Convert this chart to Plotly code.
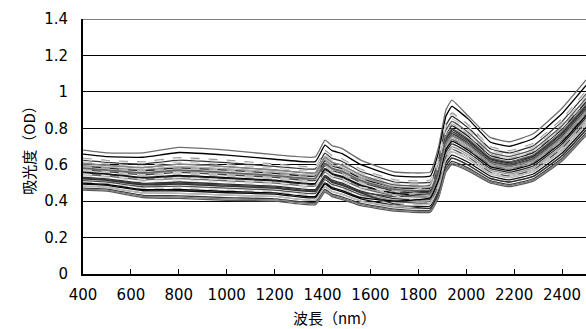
import plotly.graph_objects as go

wavelengths = [400, 500, 650, 800, 1000, 1200, 1370, 1410, 1440, 1480, 1560, 1700,
               1850, 1885, 1915, 1940, 2010, 2100, 2180, 2280, 2400, 2500]

spectra = [
    [0.680, 0.665, 0.665, 0.695, 0.680, 0.655, 0.643, 0.735, 0.705, 0.690, 0.625, 0.560, 0.560, 0.700, 0.900, 0.955, 0.865, 0.750, 0.726, 0.770, 0.910, 1.065],
    [0.658, 0.644, 0.641, 0.667, 0.653, 0.630, 0.617, 0.707, 0.677, 0.662, 0.600, 0.539, 0.538, 0.672, 0.866, 0.920, 0.849, 0.725, 0.701, 0.744, 0.881, 1.035],
    [0.636, 0.623, 0.616, 0.639, 0.625, 0.604, 0.590, 0.678, 0.649, 0.634, 0.575, 0.517, 0.516, 0.644, 0.832, 0.884, 0.817, 0.700, 0.677, 0.718, 0.852, 1.004],
    [0.625, 0.613, 0.604, 0.625, 0.611, 0.591, 0.577, 0.664, 0.635, 0.620, 0.563, 0.506, 0.505, 0.630, 0.815, 0.866, 0.801, 0.688, 0.665, 0.705, 0.838, 0.989],
    [0.616, 0.604, 0.594, 0.614, 0.600, 0.581, 0.567, 0.652, 0.624, 0.609, 0.553, 0.498, 0.496, 0.619, 0.801, 0.852, 0.789, 0.678, 0.655, 0.695, 0.826, 0.977],
    [0.607, 0.596, 0.584, 0.603, 0.589, 0.571, 0.556, 0.641, 0.613, 0.598, 0.543, 0.489, 0.487, 0.608, 0.788, 0.838, 0.776, 0.668, 0.645, 0.684, 0.814, 0.964],
    [0.599, 0.587, 0.574, 0.591, 0.578, 0.561, 0.546, 0.630, 0.601, 0.586, 0.533, 0.480, 0.479, 0.596, 0.774, 0.824, 0.763, 0.658, 0.635, 0.674, 0.803, 0.952],
    [0.592, 0.581, 0.567, 0.583, 0.570, 0.553, 0.538, 0.621, 0.593, 0.578, 0.525, 0.474, 0.472, 0.588, 0.764, 0.813, 0.754, 0.650, 0.628, 0.666, 0.794, 0.943],
    [0.585, 0.575, 0.560, 0.575, 0.562, 0.545, 0.530, 0.612, 0.585, 0.570, 0.518, 0.468, 0.465, 0.580, 0.754, 0.802, 0.745, 0.643, 0.620, 0.658, 0.785, 0.934],
    [0.579, 0.568, 0.552, 0.566, 0.554, 0.538, 0.522, 0.604, 0.576, 0.561, 0.510, 0.461, 0.459, 0.571, 0.744, 0.792, 0.735, 0.635, 0.613, 0.650, 0.777, 0.925],
    [0.572, 0.562, 0.545, 0.558, 0.545, 0.530, 0.514, 0.595, 0.568, 0.553, 0.503, 0.455, 0.452, 0.563, 0.733, 0.781, 0.726, 0.628, 0.605, 0.643, 0.768, 0.916],
    [0.566, 0.556, 0.538, 0.549, 0.537, 0.522, 0.506, 0.587, 0.559, 0.544, 0.495, 0.448, 0.446, 0.554, 0.723, 0.770, 0.716, 0.620, 0.598, 0.635, 0.759, 0.906],
    [0.559, 0.550, 0.530, 0.541, 0.529, 0.515, 0.498, 0.578, 0.551, 0.536, 0.488, 0.442, 0.439, 0.546, 0.713, 0.760, 0.707, 0.613, 0.591, 0.627, 0.751, 0.897],
    [0.552, 0.543, 0.523, 0.533, 0.521, 0.507, 0.490, 0.570, 0.543, 0.528, 0.480, 0.435, 0.432, 0.538, 0.703, 0.749, 0.697, 0.605, 0.583, 0.619, 0.742, 0.888],
    [0.546, 0.537, 0.516, 0.524, 0.512, 0.499, 0.483, 0.561, 0.534, 0.519, 0.473, 0.429, 0.426, 0.529, 0.693, 0.738, 0.688, 0.598, 0.576, 0.611, 0.733, 0.879],
    [0.539, 0.531, 0.508, 0.516, 0.504, 0.492, 0.475, 0.553, 0.526, 0.511, 0.465, 0.422, 0.419, 0.521, 0.682, 0.728, 0.678, 0.590, 0.569, 0.604, 0.724, 0.870],
    [0.530, 0.522, 0.498, 0.505, 0.493, 0.482, 0.464, 0.541, 0.515, 0.500, 0.455, 0.414, 0.410, 0.510, 0.669, 0.714, 0.666, 0.580, 0.559, 0.593, 0.713, 0.858],
    [0.522, 0.514, 0.489, 0.493, 0.482, 0.471, 0.454, 0.530, 0.503, 0.488, 0.445, 0.405, 0.402, 0.498, 0.655, 0.699, 0.653, 0.570, 0.549, 0.583, 0.701, 0.845],
    [0.513, 0.505, 0.479, 0.482, 0.471, 0.461, 0.443, 0.518, 0.492, 0.477, 0.435, 0.397, 0.393, 0.487, 0.642, 0.685, 0.641, 0.560, 0.539, 0.572, 0.690, 0.833],
    [0.504, 0.497, 0.469, 0.471, 0.460, 0.451, 0.433, 0.507, 0.481, 0.466, 0.425, 0.388, 0.384, 0.476, 0.628, 0.671, 0.628, 0.550, 0.529, 0.562, 0.678, 0.821],
    [0.493, 0.487, 0.457, 0.457, 0.446, 0.438, 0.419, 0.493, 0.467, 0.452, 0.413, 0.377, 0.373, 0.462, 0.611, 0.653, 0.612, 0.538, 0.517, 0.549, 0.664, 0.806],
    [0.482, 0.476, 0.445, 0.443, 0.433, 0.426, 0.406, 0.479, 0.453, 0.438, 0.400, 0.367, 0.362, 0.448, 0.594, 0.636, 0.597, 0.525, 0.505, 0.536, 0.649, 0.791],
    [0.471, 0.466, 0.432, 0.429, 0.419, 0.413, 0.393, 0.464, 0.439, 0.424, 0.388, 0.356, 0.351, 0.434, 0.577, 0.618, 0.581, 0.513, 0.492, 0.523, 0.635, 0.775],
    [0.460, 0.455, 0.420, 0.415, 0.405, 0.400, 0.380, 0.450, 0.425, 0.410, 0.375, 0.345, 0.340, 0.420, 0.560, 0.600, 0.565, 0.500, 0.480, 0.510, 0.620, 0.760],
    [0.556, 0.547, 0.527, 0.537, 0.525, 0.511, 0.494, 0.574, 0.547, 0.532, 0.484, 0.445, 0.459, 0.571, 0.744, 0.792, 0.735, 0.635, 0.613, 0.650, 0.777, 0.925],
    [0.592, 0.581, 0.567, 0.583, 0.570, 0.553, 0.538, 0.621, 0.593, 0.578, 0.525, 0.455, 0.426, 0.529, 0.693, 0.738, 0.688, 0.598, 0.576, 0.611, 0.733, 0.879],
    [0.526, 0.518, 0.494, 0.499, 0.488, 0.477, 0.459, 0.536, 0.509, 0.494, 0.450, 0.425, 0.446, 0.554, 0.723, 0.770, 0.716, 0.620, 0.598, 0.635, 0.759, 0.906],
    [0.572, 0.562, 0.545, 0.558, 0.545, 0.530, 0.514, 0.595, 0.568, 0.553, 0.503, 0.430, 0.393, 0.487, 0.642, 0.685, 0.641, 0.560, 0.539, 0.572, 0.690, 0.833],
    [0.499, 0.492, 0.463, 0.464, 0.453, 0.445, 0.426, 0.500, 0.474, 0.459, 0.419, 0.400, 0.419, 0.521, 0.682, 0.728, 0.678, 0.590, 0.569, 0.604, 0.724, 0.870],
    [0.607, 0.596, 0.584, 0.603, 0.589, 0.571, 0.556, 0.641, 0.613, 0.598, 0.543, 0.470, 0.439, 0.546, 0.713, 0.760, 0.707, 0.613, 0.591, 0.627, 0.751, 0.897],
    [0.549, 0.540, 0.520, 0.529, 0.517, 0.503, 0.487, 0.566, 0.539, 0.524, 0.477, 0.455, 0.479, 0.596, 0.774, 0.824, 0.763, 0.658, 0.635, 0.674, 0.803, 0.952],
    [0.522, 0.514, 0.489, 0.493, 0.482, 0.471, 0.454, 0.530, 0.503, 0.488, 0.445, 0.385, 0.362, 0.448, 0.594, 0.636, 0.597, 0.525, 0.505, 0.536, 0.649, 0.791],
    [0.482, 0.476, 0.445, 0.443, 0.433, 0.426, 0.406, 0.479, 0.453, 0.438, 0.400, 0.375, 0.384, 0.476, 0.628, 0.671, 0.628, 0.550, 0.529, 0.562, 0.678, 0.821],
    [0.582, 0.572, 0.556, 0.571, 0.558, 0.542, 0.526, 0.608, 0.581, 0.566, 0.514, 0.465, 0.462, 0.576, 0.749, 0.797, 0.740, 0.639, 0.617, 0.654, 0.781, 0.930],
    [0.631, 0.618, 0.610, 0.632, 0.618, 0.598, 0.584, 0.671, 0.642, 0.627, 0.569, 0.512, 0.511, 0.637, 0.824, 0.875, 0.809, 0.694, 0.671, 0.712, 0.845, 0.997],
    [0.466, 0.461, 0.426, 0.422, 0.412, 0.407, 0.387, 0.457, 0.432, 0.417, 0.382, 0.351, 0.346, 0.427, 0.569, 0.609, 0.573, 0.507, 0.486, 0.517, 0.628, 0.768],
]

line_colors = ["#6e6e6e", "#000000", "#9a9a9a", "#333333", "#c8c8c8", "#555555",
               "#b0b0b0", "#222222", "#d0d0d0", "#808080", "#444444", "#bdbdbd",
               "#000000", "#a5a5a5", "#666666", "#d6d6d6", "#2b2b2b", "#999999",
               "#4d4d4d", "#c0c0c0", "#111111", "#8c8c8c", "#3a3a3a", "#5a5a5a",
               "#1a1a1a", "#aaaaaa", "#3f3f3f", "#cccccc", "#000000", "#888888",
               "#dddddd", "#2f2f2f", "#b8b8b8", "#606060", "#e0e0e0", "#7a7a7a"]
line_dashes = ["solid", "solid", "dash", "solid", "dash", "solid", "solid", "solid",
               "dash", "solid", "solid", "dash", "solid", "solid", "solid", "dash",
               "solid", "solid", "solid", "dash", "solid", "solid", "solid", "solid",
               "solid", "dash", "solid", "dash", "solid", "solid", "dash", "solid",
               "solid", "solid", "dash", "solid"]

y_ticks = [0, 0.2, 0.4, 0.6, 0.8, 1.0, 1.2, 1.4]
y_labels = ["0", "0.2", "0.4", "0.6", "0.8", "1", "1.2", "1.4"]
x_ticks = [400, 600, 800, 1000, 1200, 1400, 1600, 1800, 2000, 2200, 2400]

fig = go.Figure()
for vals, col, dash in zip(spectra, line_colors, line_dashes):
    fig.add_trace(go.Scatter(x=wavelengths, y=vals, mode="lines",
                             line=dict(color=col, width=1.3, dash=dash,
                                       shape="spline", smoothing=0.35),
                             showlegend=False, hoverinfo="skip"))

# top gridline at the upper edge of the y range
fig.add_shape(type="line", xref="paper", x0=0, x1=1, yref="y",
              y0=y_ticks[-1], y1=y_ticks[-1], line=dict(color="black", width=1),
              layer="below")

tick_font = dict(family="DejaVu Sans", size=15, color="black")
title_font = dict(family="Noto Sans CJK JP", size=15, color="black")

fig.update_layout(
    width=586, height=329,
    margin=dict(l=83, r=0, t=19, b=55),
    paper_bgcolor="white", plot_bgcolor="white",
    xaxis=dict(range=[400, 2500], tickvals=x_ticks, showgrid=False,
               showline=True, linecolor="black", linewidth=2, zeroline=False,
               ticks="inside", ticklen=5, tickcolor="black", tickwidth=1,
               tickfont=tick_font, ticklabelstandoff=6,
               title=dict(text="波長（nm）", font=title_font, standoff=10)),
    yaxis=dict(range=[0, 1.4], tickvals=y_ticks, ticktext=y_labels,
               showgrid=True, gridcolor="black", gridwidth=1,
               showline=True, linecolor="black", linewidth=2, zeroline=False,
               ticks="", tickfont=tick_font, ticklabelstandoff=10,
               title=dict(text="吸光度（OD）", font=title_font, standoff=5)),
)

fig.write_html("out.html")
